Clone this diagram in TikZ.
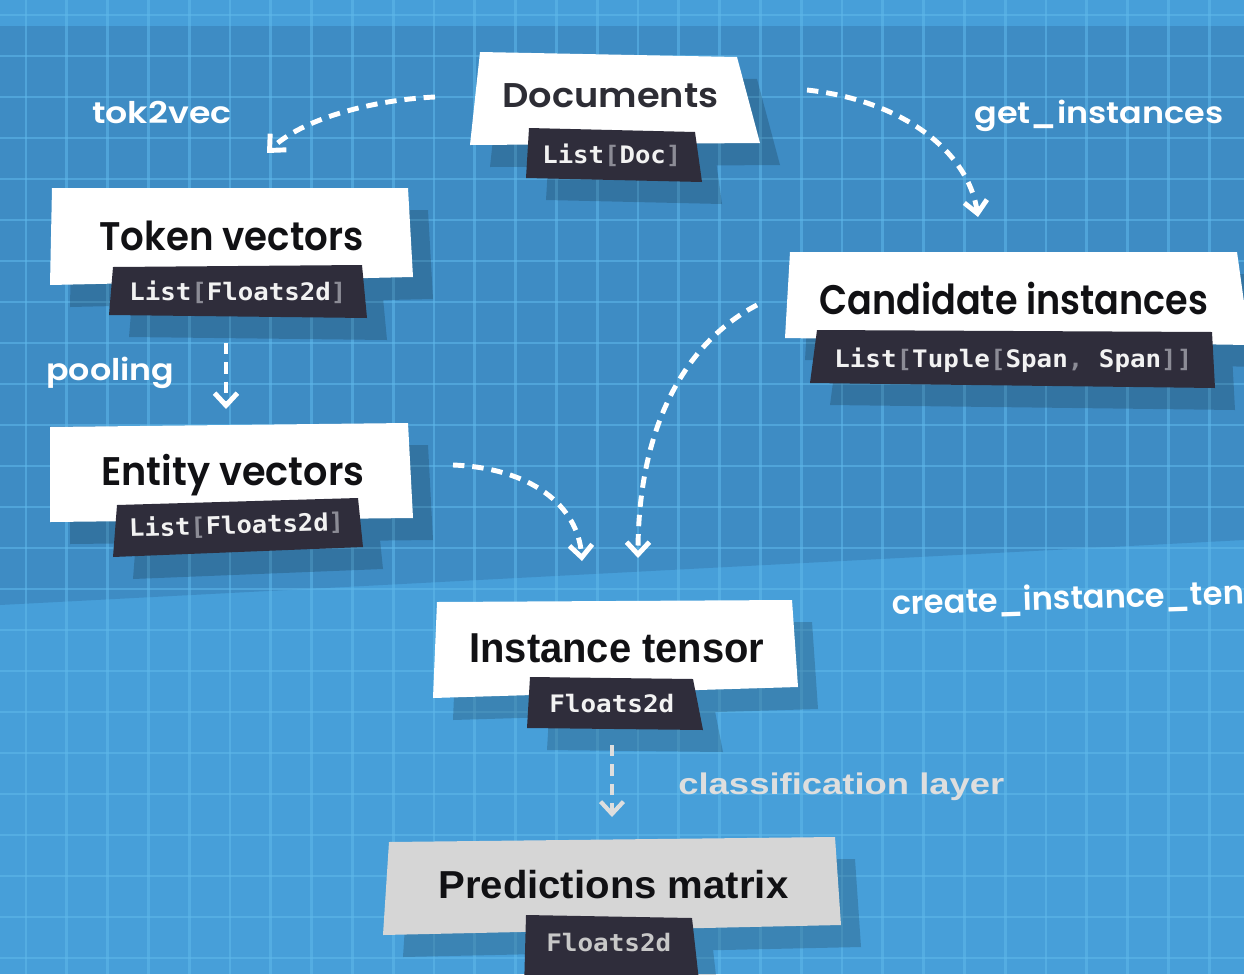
\documentclass[tikz,border=0pt]{standalone}
\usepackage{fontspec}
\usetikzlibrary{arrows.meta}
\newfontfamily\geofont{Poppins SemiBold}
\newfontfamily\geomed{Poppins SemiBold}
\newfontfamily\helvfont{Liberation Sans}
\newfontfamily\codefont{DejaVu Sans Mono}
\newlength\pxu \setlength\pxu{0.02cm}
\newcommand\fitw[2]{\resizebox{#1\pxu}{\height}{#2}}
\definecolor{lightbg}{RGB}{71,159,217}
\definecolor{darkbg}{RGB}{62,140,196}
\definecolor{gridcol}{RGB}{95,185,235}
\definecolor{tagcol}{RGB}{47,45,59}
\definecolor{tagtext}{RGB}{242,242,242}
\definecolor{brk}{RGB}{140,140,150}
\definecolor{lbltext}{RGB}{17,17,20}
\definecolor{doctext}{RGB}{45,45,53}
\definecolor{predbox}{RGB}{214,214,214}
\definecolor{predtag}{RGB}{200,200,200}
\definecolor{clsgray}{RGB}{222,222,222}
\newcommand\bk[1]{\textcolor{brk}{#1}}
\begin{document}
\begin{tikzpicture}[x=\pxu,y=-\pxu,
  shadowfill/.style={fill=black, fill opacity=0.17},
  whitebox/.style={fill=white},
  tagbox/.style={fill=tagcol},
  mainlbl/.style={anchor=base west, inner sep=0pt, text=lbltext},
  taglbl/.style={anchor=base west, inner sep=0pt, text=tagtext},
  wlbl/.style={anchor=base west, inner sep=0pt, text=white},
  gridline/.style={draw=gridcol, draw opacity=0.55, line width=1.6pt},
  flow/.style={draw=white, line width=2.8pt, dash pattern=on 6.5pt off 4.5pt,
    -{Straight Barb[length=7pt,width=13pt]}},
]
\useasboundingbox (0,0) rectangle (1244,974);
\clip (0,0) rectangle (1244,974);
% background
\fill[lightbg] (0,0) rectangle (1244,974);
\fill[darkbg] (0,26) -- (1244,26) -- (1244,540) -- (0,605) -- cycle;
\foreach \i in {0,...,30} \draw[gridline] ({26+40.8*\i},0) -- ({26+40.8*\i},974);
\foreach \j in {0,...,23} \draw[gridline] (0,{15+41*\j}) -- (1244,{15+41*\j});

% shadows
\begin{scope}[shift={(20,22)}]
\fill[shadowfill] (480,52) -- (737,57) -- (760,143) -- (470,145) -- cycle
  (529,128) -- (695,132) -- (702,182) -- (526,178) -- cycle;
\fill[shadowfill] (52,188) -- (408,188) -- (413,277) -- (50,285) -- cycle
  (113,267) -- (362,265) -- (367,318) -- (109,315) -- cycle;
\fill[shadowfill] (50,427) -- (408,423) -- (413,518) -- (50,522) -- cycle
  (117,505) -- (358,498) -- (363,547) -- (113,557) -- cycle;
\fill[shadowfill] (790,252) -- (1237,252) -- (1250,345) -- (785,338) -- cycle
  (817,330) -- (1212,332) -- (1215,388) -- (810,383) -- cycle;
\fill[shadowfill] (437,602) -- (792,600) -- (798,687) -- (433,698) -- cycle
  (530,677) -- (693,679) -- (703,730) -- (527,728) -- cycle;
\fill[shadowfill] (389,842) -- (835,837) -- (841,925) -- (383,935) -- cycle
  (526,915) -- (692,918) -- (700,990) -- (524,990) -- cycle;
\end{scope}

% boxes
\fill[whitebox] (480,52) -- (737,57) -- (760,143) -- (470,145) -- cycle;
\fill[tagbox] (529,128) -- (695,132) -- (702,182) -- (526,178) -- cycle;
\fill[whitebox] (52,188) -- (408,188) -- (413,277) -- (50,285) -- cycle;
\fill[tagbox] (113,267) -- (362,265) -- (367,318) -- (109,315) -- cycle;
\fill[whitebox] (50,427) -- (408,423) -- (413,518) -- (50,522) -- cycle;
\fill[tagbox] (117,505) -- (358,498) -- (363,547) -- (113,557) -- cycle;
\fill[whitebox] (790,252) -- (1237,252) -- (1250,345) -- (785,338) -- cycle;
\fill[tagbox] (817,330) -- (1212,332) -- (1215,388) -- (810,383) -- cycle;
\fill[whitebox] (437,602) -- (792,600) -- (798,687) -- (433,698) -- cycle;
\fill[tagbox] (530,677) -- (693,679) -- (703,730) -- (527,728) -- cycle;
\fill[predbox] (389,842) -- (835,837) -- (841,925) -- (383,935) -- cycle;
\fill[tagbox] (526,915) -- (692,918) -- (700,990) -- (524,990) -- cycle;

% main labels
\node[mainlbl, text=doctext] (doc) at (502,107) {\fontsize{19.5}{22}\geofont\fitw{216}{Documents}};
\node[mainlbl] (tok) at (99,250) {\fontsize{22.7}{26}\geofont\fitw{264}{Token vectors}};
\node[mainlbl] (ent) at (101,485) {\fontsize{22.7}{26}\geofont\fitw{263}{Entity vectors}};
\node[mainlbl] (cand) at (819,314) {\fontsize{23.5}{26}\geofont\fitw{389}{Candidate instances}};
\node[mainlbl] (inst) at (469,662) {\fontsize{23.8}{26}\helvfont\bfseries\fitw{295}{Instance tensor}};
\node[mainlbl] (pred) at (438,898) {\fontsize{22.2}{26}\helvfont\bfseries\fitw{350}{Predictions matrix}};

% type tags
\node[taglbl] (doct) at (542,163) {\fontsize{13.7}{16}\codefont\bfseries\fitw{139}{List\bk{[}Doc\bk{]}}};
\node[taglbl] (tokt) at (129,300) {\fontsize{13.7}{16}\codefont\bfseries\fitw{217}{List\bk{[}Floats2d\bk{]}}};
\node[taglbl, rotate=1.8] (entt) at (129,537) {\fontsize{13.7}{16}\codefont\bfseries\fitw{215}{List\bk{[}Floats2d\bk{]}}};
\node[taglbl] (candt) at (834,367) {\fontsize{13.7}{16}\codefont\bfseries\fitw{358}{List\bk{[}Tuple\bk{[}Span\bk{,} Span\bk{]]}}};
\node[taglbl] (instt) at (549,712) {\fontsize{13.7}{16}\codefont\bfseries\fitw{125}{Floats2d}};
\node[taglbl, text=predtag] (predt) at (546,951) {\fontsize{13.7}{16}\codefont\bfseries\fitw{125}{Floats2d}};

% operation labels
\node[wlbl] (l1) at (92,123) {\fontsize{17}{20}\geomed\fitw{139}{tok2vec}};
\node[wlbl] (l2) at (974,123) {\fontsize{17}{20}\geomed\fitw{249}{get\_instances}};
\node[wlbl] (l3) at (46,380) {\fontsize{17}{20}\geomed\fitw{128}{pooling}};
\node[wlbl, text=clsgray] (l4) at (678,794) {\fontsize{17}{20}\helvfont\bfseries\fitw{326}{classification layer}};
\node[wlbl, rotate=1.8] (l5) at (892,615) {\fontsize{18.5}{20}\geofont\fitw{352}{create\_instance\_ten}};

% connector end points
\coordinate (a1s) at (435,97);  \coordinate (a1e) at (267,153);
\coordinate (a2s) at (807,90);  \coordinate (a2e) at (978,217);
\coordinate (a3s) at (226,343); \coordinate (a3e) at (226,409);
\coordinate (a4s) at (453,465); \coordinate (a4e) at (582,561);
\coordinate (a5s) at (757,305); \coordinate (a5e) at (638,558);
\coordinate (a6s) at (612,745); \coordinate (a6e) at (612,817);

\draw[flow] (a1s) .. controls (370,100) and (300,120) .. (a1e);
\draw[flow] (a2s) .. controls (900,100) and (968,150) .. (a2e);
\draw[flow] (a3s) -- (a3e);
\draw[flow] (a4s) .. controls (530,468) and (578,505) .. (a4e);
\draw[flow] (a5s) .. controls (690,340) and (638,420) .. (a5e);
\draw[flow, draw=clsgray, line width=2.4pt] (a6s) -- (a6e);
\end{tikzpicture}
\end{document}
